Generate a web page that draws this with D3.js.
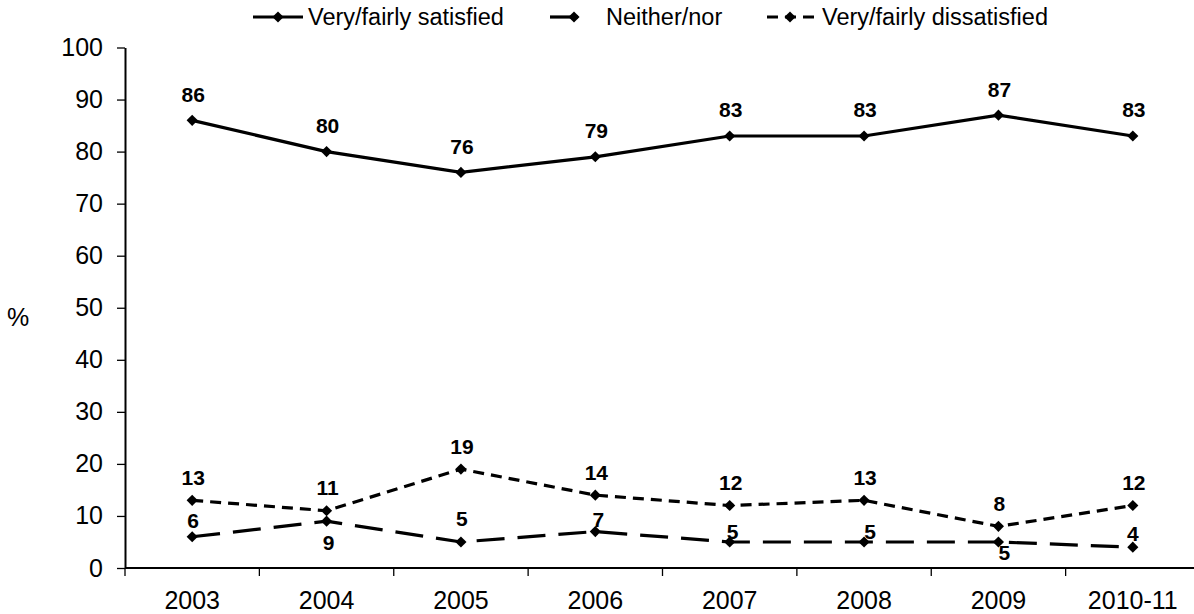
<!DOCTYPE html>
<html>
<head>
<meta charset="utf-8">
<script src="https://cdn.jsdelivr.net/npm/d3@7"></script>
<style>
  html, body { margin: 0; padding: 0; background: #fff; }
  svg { display: block; font-family: "Liberation Sans", Arial, sans-serif; }
</style>
</head>
<body>
<svg id="chart" width="1194" height="614"></svg>
<script>
const categories = ["2003", "2004", "2005", "2006", "2007", "2008", "2009", "2010-11"];
const satisfied = [86, 80, 76, 79, 83, 83, 87, 83];
const neither = [6, 9, 5, 7, 5, 5, 5, 4];
const dissatisfied = [13, 11, 19, 14, 12, 13, 8, 12];
const yTicks = [0, 10, 20, 30, 40, 50, 60, 70, 80, 90, 100];
const seriesNames = ["Very/fairly satisfied", "Neither/nor", "Very/fairly dissatisfied"];

// label nudges for the Neither/nor series (pixels, relative to point)
const neitherLabelDx = [1, 2, 1, 3, 3, 6, 6, 0];
const neitherLabelDy = [-16, 21, -23, -12, -10, -10, 11, -14];

(function () {
const svg = d3.select("#chart");
const pLeft = 125, pRight = 1200, pTop = 47.5, pBottom = 568;

const x = d3.scaleBand().domain(categories).range([pLeft, pRight]);
const y = d3.scaleLinear().domain([0, 100]).range([pBottom, pTop]);

// Y axis
const yAxis = d3.axisLeft(y).tickValues(yTicks).tickSize(8).tickSizeOuter(0).tickPadding(14);
const gy = svg.append("g").attr("transform", `translate(${pLeft},0)`).call(yAxis);
gy.select(".domain").attr("stroke", "#000").attr("stroke-width", 2);
gy.selectAll(".tick line").attr("stroke", "#000").attr("stroke-width", 1.3);
gy.selectAll(".tick text").attr("font-size", 25).attr("fill", "#000")
  .attr("font-family", "Liberation Sans, Arial, sans-serif");

// X axis line + ticks at band boundaries
const gx = svg.append("g").attr("transform", `translate(0,${pBottom})`);
gx.append("line").attr("x1", pLeft).attr("x2", pRight).attr("y1", 0).attr("y2", 0)
  .attr("stroke", "#000").attr("stroke-width", 2);
const boundaries = categories.map(c => x(c));
gx.selectAll("line.tk").data(boundaries).join("line").attr("class", "tk")
  .attr("x1", d => d).attr("x2", d => d).attr("y1", 0).attr("y2", 8)
  .attr("stroke", "#000").attr("stroke-width", 1.3);
gx.selectAll("text").data(categories).join("text")
  .attr("x", d => x(d) + x.bandwidth() / 2)
  .attr("y", 41)
  .attr("text-anchor", "middle")
  .attr("font-size", 25)
  .text(d => d);

// % label
svg.append("text").attr("x", 7).attr("y", 326).attr("font-size", 25).text("%");

const cx = (i) => x(categories[i]) + x.bandwidth() / 2;
const line = d3.line().x((d, i) => cx(i)).y(d => y(d));

const diamond = d3.symbol().type(d3.symbolSquare).size(62);

function drawSeries(vals, dash) {
  svg.append("path").datum(vals).attr("d", line)
    .attr("fill", "none").attr("stroke", "#000").attr("stroke-width", 3.2)
    .attr("stroke-dasharray", dash || null);
  svg.append("g").selectAll("path").data(vals).join("path")
    .attr("d", diamond)
    .attr("transform", (d, i) => `translate(${cx(i)},${y(d)}) rotate(45)`)
    .attr("fill", "#000");
}

drawSeries(satisfied, null);
drawSeries(neither, "28,13");
drawSeries(dissatisfied, "11,7");

function labels(vals, dxArr, dyArr) {
  svg.append("g").selectAll("text").data(vals).join("text")
    .attr("x", (d, i) => cx(i) + (typeof dxArr === "number" ? dxArr : dxArr[i]))
    .attr("y", (d, i) => y(d) + (typeof dyArr === "number" ? dyArr : dyArr[i]) + 7.5)
    .attr("text-anchor", "middle")
    .attr("font-size", 21)
    .attr("font-weight", "bold")
    .text(d => d);
}
labels(satisfied, 1, -26);
labels(dissatisfied, 1, -23);
labels(neither, neitherLabelDx, neitherLabelDy);

// Legend
const legendItems = [
  { name: seriesNames[0], x1: 253, x2: 303, mx: 278, tx: 308, dash: null },
  { name: seriesNames[1], x1: 550, x2: 590, mx: 574, tx: 606, dash: "28,13" },
  { name: seriesNames[2], x1: 767, x2: 814, mx: 790, tx: 822, dash: "11,7" }
];
const ly = 17;
const lg = svg.append("g");
legendItems.forEach(it => {
  lg.append("line").attr("x1", it.x1).attr("x2", it.x2).attr("y1", ly).attr("y2", ly)
    .attr("stroke", "#000").attr("stroke-width", 3.2).attr("stroke-dasharray", it.dash);
  lg.append("path").attr("d", diamond)
    .attr("transform", `translate(${it.mx},${ly}) rotate(45)`).attr("fill", "#000");
  lg.append("text").attr("x", it.tx).attr("y", ly + 8.3).attr("font-size", 23.5).text(it.name);
});
})();
</script>
</body>
</html>
